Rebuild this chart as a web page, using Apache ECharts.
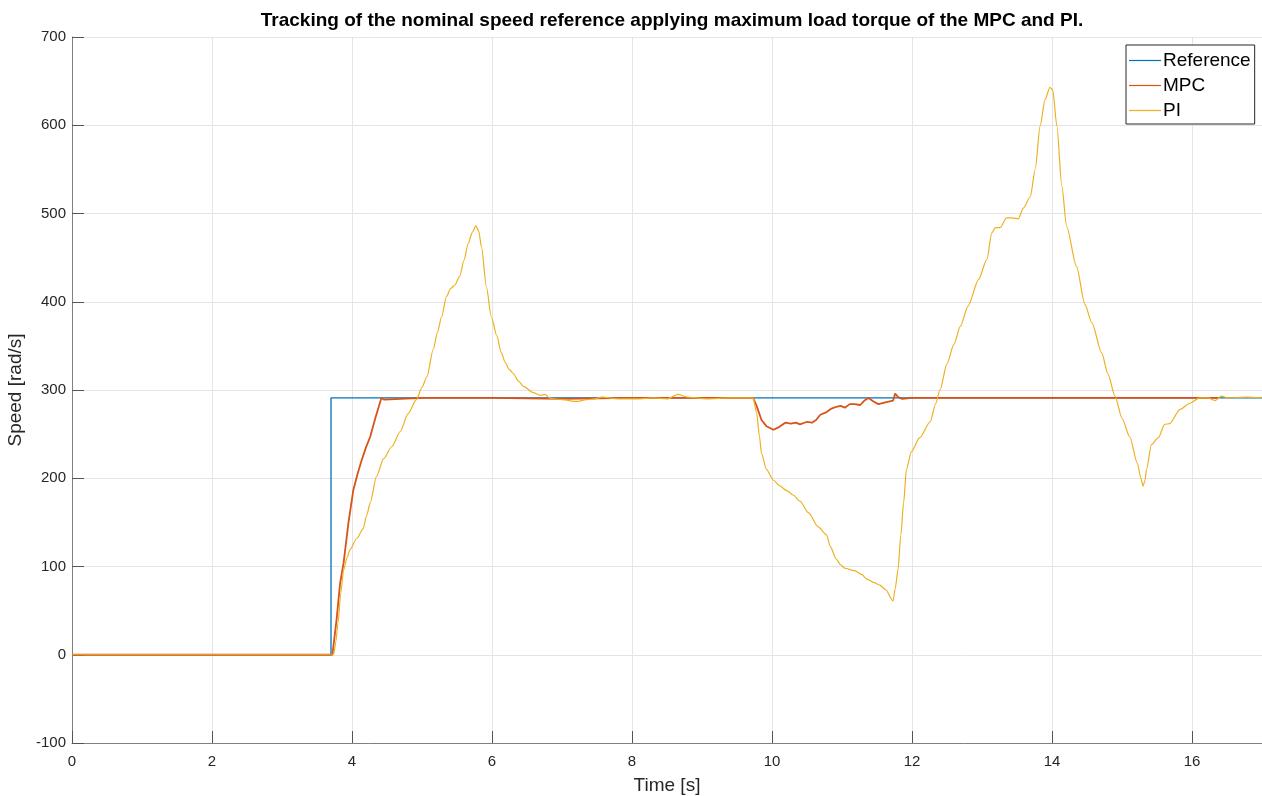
<!DOCTYPE html>
<html>
<head>
<meta charset="utf-8">
<script src="https://cdn.jsdelivr.net/npm/echarts@6/dist/echarts.min.js"></script>
<style>
  html, body { margin: 0; padding: 0; background: #fff; }
  #chart { width: 1262px; height: 796px; }
</style>
</head>
<body>
<div id="chart"></div>
<script>
// Speed tracking: step reference, MPC and PI responses under maximum load torque
const titleText = 'Tracking of the nominal speed reference applying maximum load torque of the MPC and PI.';
const seriesNames = ['Reference', 'MPC', 'PI'];
const xTicks = { min: 0, max: 17, interval: 2 };
const yTicks = { min: -100, max: 700, interval: 100 };

// [time s, speed rad/s]
const refData = [[0, 0], [3.7, 0], [3.7, 291], [17, 291]];

const mpcData = [
  [0, 0], [1, 0], [2, 0], [3, 0], [3.72, 0], [3.73, 2], [3.78, 40], [3.83, 81], [3.88, 104],
  [3.95, 150], [4.02, 187], [4.08, 205], [4.14, 221], [4.20, 235], [4.26, 247], [4.34, 270],
  [4.42, 291], [4.46, 289], [5, 291], [6, 291], [7, 290], [8, 291], [9, 291], [9.73, 291],
  [9.78, 282], [9.85, 266], [9.92, 259], [10.02, 255], [10.10, 258], [10.19, 263], [10.27, 262],
  [10.34, 263], [10.40, 261], [10.50, 264], [10.57, 263], [10.63, 266], [10.69, 272], [10.78, 275],
  [10.85, 279], [10.92, 281], [10.98, 282], [11.04, 280], [11.11, 284], [11.18, 284], [11.26, 283],
  [11.32, 288], [11.38, 291], [11.45, 287], [11.52, 284], [11.62, 286], [11.73, 288], [11.76, 296],
  [11.80, 292], [11.86, 290], [12, 291], [13, 291], [14, 291], [15, 291], [16, 291], [16.37, 291]
];

const piData = [
  [0, 0], [1, 0], [2, 0], [3, 0], [3.72, 0], [3.74, 1], [3.77, 15], [3.80, 36], [3.84, 70],
  [3.88, 96], [3.93, 110], [3.97, 119], [4.07, 132], [4.16, 143], [4.21, 158], [4.26, 172],
  [4.35, 202], [4.45, 222], [4.57, 236], [4.69, 253], [4.80, 273], [4.92, 289], [5.00, 303],
  [5.07, 315], [5.16, 346], [5.22, 365], [5.28, 383], [5.35, 406], [5.41, 415], [5.47, 419],
  [5.54, 429], [5.60, 447], [5.66, 466], [5.72, 479], [5.77, 486], [5.81, 480], [5.85, 462],
  [5.92, 417], [5.99, 383], [6.07, 361], [6.13, 343], [6.19, 331], [6.25, 323], [6.30, 319],
  [6.38, 310], [6.45, 304], [6.59, 297], [6.69, 294], [6.76, 295], [6.82, 291], [6.88, 290],
  [7.00, 289], [7.21, 287], [7.35, 289], [7.47, 290], [7.57, 292], [7.80, 290], [8.11, 290],
  [8.30, 291], [8.50, 290], [8.66, 295], [8.79, 292], [9.07, 290], [9.40, 291], [9.73, 291],
  [9.78, 274], [9.82, 248], [9.85, 228], [9.92, 210], [10.02, 198], [10.10, 192], [10.21, 186],
  [10.30, 181], [10.40, 174], [10.52, 161], [10.66, 145], [10.78, 136], [10.83, 123], [10.92, 108],
  [10.98, 102], [11.04, 98], [11.19, 95], [11.28, 91], [11.35, 86], [11.45, 82], [11.54, 79],
  [11.62, 74], [11.73, 61], [11.76, 75], [11.80, 96], [11.84, 135], [11.88, 172], [11.92, 210],
  [11.99, 230], [12.11, 246], [12.26, 264], [12.34, 285], [12.40, 300], [12.50, 330], [12.60, 352],
  [12.69, 372], [12.80, 395], [12.95, 425], [13.07, 448], [13.14, 478], [13.19, 484], [13.26, 484],
  [13.35, 495], [13.43, 495], [13.52, 494], [13.59, 506], [13.69, 519], [13.76, 550], [13.83, 599],
  [13.90, 629], [13.97, 643], [14.01, 640], [14.07, 599], [14.14, 531], [14.21, 485], [14.35, 440],
  [14.47, 397], [14.57, 376], [14.71, 342], [14.80, 318], [14.90, 293], [15.00, 268], [15.11, 247],
  [15.22, 217], [15.27, 200], [15.30, 191], [15.33, 198], [15.35, 210], [15.42, 238], [15.52, 246],
  [15.61, 261], [15.68, 262], [15.83, 278], [15.97, 285], [16.11, 291], [16.23, 291], [16.33, 288],
  [16.42, 293], [16.52, 291], [16.78, 292], [17, 291]
];

const colors = ['#0072BD', '#D95319', '#EDB120'];
const fontFamily = '"Liberation Sans", Arial, Helvetica, sans-serif';
const textColor = '#262626';

const chart = echarts.init(document.getElementById('chart'), null, { renderer: 'canvas' });

chart.setOption({
  animation: false,
  backgroundColor: '#ffffff',
  color: colors,
  title: {
    text: titleText,
    left: 667,
    textAlign: 'center',
    top: 6,
    textStyle: { fontFamily, fontSize: 19, fontWeight: 'bold', color: '#000' }
  },
  legend: {
    data: seriesNames.map(name => ({ name, icon: 'rect' })),
    orient: 'vertical',
    left: 1126,
    top: 45,
    padding: [6, 4, 4, 3],
    itemGap: 6,
    itemWidth: 32,
    itemHeight: 1.2,
    backgroundColor: '#ffffff',
    borderColor: '#262626',
    borderWidth: 1,
    borderRadius: 0,
    textStyle: { fontFamily, fontSize: 19, lineHeight: 19, color: '#000', padding: [0, 0, 0, -3] }
  },
  grid: { left: 72, right: 0, top: 37, bottom: 53, containLabel: false, outerBoundsMode: 'none' },
  xAxis: {
    type: 'value',
    min: xTicks.min,
    max: xTicks.max,
    interval: xTicks.interval,
    name: 'Time [s]',
    nameLocation: 'middle',
    nameGap: 33,
    nameTextStyle: { fontFamily, fontSize: 19, color: textColor },
    axisLine: { show: true, onZero: false, lineStyle: { color: '#808080', width: 1 } },
    axisTick: { show: true, inside: true, length: 12, lineStyle: { color: '#555', width: 1 } },
    axisLabel: { fontFamily, fontSize: 15, color: textColor, margin: 11, showMaxLabel: false },
    splitLine: { show: true, lineStyle: { color: '#e4e4e4', width: 1 } }
  },
  yAxis: {
    type: 'value',
    min: yTicks.min,
    max: yTicks.max,
    interval: yTicks.interval,
    name: 'Speed [rad/s]',
    nameLocation: 'middle',
    nameGap: 42,
    nameTextStyle: { fontFamily, fontSize: 19, color: textColor },
    axisLine: { show: true, onZero: false, lineStyle: { color: '#808080', width: 1 } },
    axisTick: { show: true, inside: true, length: 12, lineStyle: { color: '#555', width: 1 } },
    axisLabel: { fontFamily, fontSize: 15, color: textColor, margin: 6 },
    splitLine: { show: true, lineStyle: { color: '#e4e4e4', width: 1 } }
  },
  series: [
    {
      name: 'Reference', type: 'line', data: refData, symbol: 'none',
      lineStyle: { width: 1.3, color: colors[0] }, z: 2
    },
    {
      name: 'MPC', type: 'line', data: mpcData, symbol: 'none',
      lineStyle: { width: 1.8, color: colors[1] }, z: 3
    },
    {
      name: 'PI', type: 'line', data: piData, symbol: 'none', smooth: 0.25, smoothMonotone: 'x',
      lineStyle: { width: 1.2, color: colors[2] }, z: 4
    }
  ]
});
</script>
</body>
</html>
